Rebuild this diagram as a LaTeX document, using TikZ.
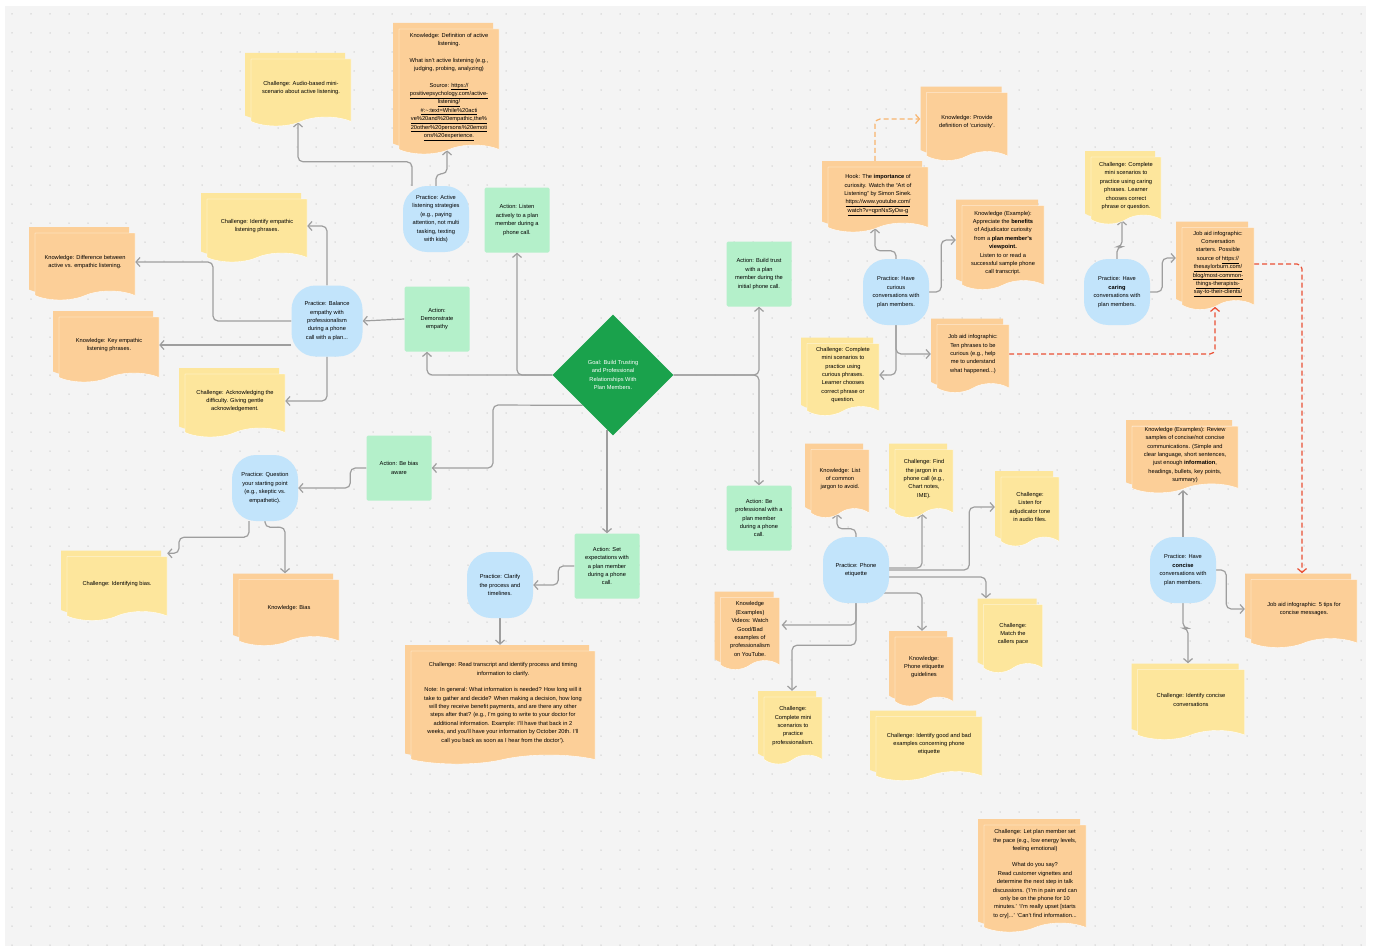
\documentclass[tikz,border=0pt]{standalone}
\usepackage{fontspec}
\setmainfont{Liberation Sans}
\usetikzlibrary{arrows.meta,shapes.geometric,shapes.symbols,shadows,calc}
\pgfdeclarelayer{bg}
\pgfdeclarelayer{edges}
\pgfsetlayers{bg,edges,main}
\newcommand{\lnk}[1]{\underline{#1}}
\definecolor{bggray}{HTML}{F4F4F4}
\definecolor{dotgray}{HTML}{CDCDCD}
\definecolor{knoworange}{HTML}{FCCF98}
\definecolor{chalyellow}{HTML}{FDE69C}
\definecolor{pracblue}{HTML}{C2E4FB}
\definecolor{actgreen}{HTML}{B4F0CA}
\definecolor{goalgreen}{HTML}{1AA24C}
\definecolor{linegray}{HTML}{9E9E9E}
\definecolor{dashorange}{HTML}{F8B46E}
\definecolor{dashred}{HTML}{EA5034}

\begin{document}
\begin{tikzpicture}[x=1pt,y=-1pt,font=\fontsize{5.7}{8.4}\selectfont,
 goal/.style={diamond,aspect=1,fill=goalgreen,text=white,minimum size=121pt,inner sep=0pt,align=center},
 act/.style={rectangle,rounded corners=1.5pt,fill=actgreen,minimum size=65pt,inner sep=1pt,align=center},
 prac/.style={rectangle,rounded corners=24pt,fill=pracblue,minimum size=66pt,inner sep=1pt,align=center},
 doc/.style={tape,tape bend top=none,tape bend height=9pt,fill=#1,draw=white,line width=0.4pt,
   inner sep=1pt,align=center,
   copy shadow={shadow xshift=-6pt,shadow yshift=6pt,opacity=1,fill=#1,draw=none}},
 know/.style={doc=knoworange},
 chal/.style={doc=chalyellow},
 wh/.style 2 args={minimum width=#1pt,minimum height=#2pt},
 ln/.style={draw=linegray,line width=1.2pt,rounded corners=5pt,-{Straight Barb[length=4pt,width=9pt]}},
 dln/.style={ln,draw=#1,dashed,dash pattern=on 5pt off 3pt}]
\useasboundingbox (0,0) rectangle (1373,950);
\begin{pgfonlayer}{bg}
\fill[white] (0,0) rectangle (1373,950);
\fill[bggray] (5,6) rectangle (1366,946);
\foreach \i in {0,...,71}
  \foreach \j in {0,...,49}
    \fill[dotgray] (12+19*\i,14+19*\j) circle (0.75);
\end{pgfonlayer}

% goal and actions
\node[goal] (goal) at (613,375) {Goal: Build Trusting\\and Professional\\Relationships With\\Plan Members.};
\node[act] (a1) at (517,220) {Action: Listen\\actively to a plan\\member during a\\phone call.};
\node[act] (a2) at (437,319) {Action:\\Demonstrate\\empathy};
\node[act] (a3) at (399,468) {Action: Be bias\\aware};
\node[act] (a4) at (607,566) {Action: Set\\expectations with\\a plan member\\during a phone\\call.};
\node[act] (a5) at (759,274) {Action: Build trust\\with a plan\\member during the\\initial phone call.};
\node[act] (a6) at (759,518) {Action: Be\\professional with a\\plan member\\during a phone\\call.};

% practice
\node[prac] (p1) at (436,219) {Practice: Active\\listening strategies\\(e.g., paying\\attention, not multi\\tasking, texting\\with kids)};
\node[prac,minimum size=71pt] (p2) at (327,321) {Practice: Balance\\empathy with\\professionalism\\during a phone\\call with a plan...};
\node[prac] (p3) at (265,488) {Practice: Question\\your starting point\\(e.g., skeptic vs.\\empathetic).};
\node[prac] (p4) at (500,585) {Practice: Clarify\\the process and\\timelines.};
\node[prac] (p5) at (896,292) {Practice: Have\\curious\\conversations with\\plan members.};
\node[prac] (p6) at (1117,292) {Practice: Have\\\textbf{caring}\\conversations with\\plan members.};
\node[prac] (p7) at (856,570) {Practice: Phone\\etiquette};
\node[prac] (p8) at (1183,570) {Practice: Have\\\textbf{concise}\\conversations with\\plan members.};

% left side documents
\node[chal,wh={100}{67}] (d1) at (301,88) {Challenge: Audio-based mini-\\scenario about active listening.};
\node[know,wh={100}{125}] (d2) at (449,87) {Knowledge: Definition of active\\listening.\\[8pt]What isn't active listening (e.g.,\\judging, probing, analyzing)\\[8pt]Source: \lnk{https://}\\\lnk{positivepsychology.com/active-}\\\lnk{listening/}\\\lnk{\#:\textasciitilde:text=While\%20acti}\\\lnk{ve\%20and\%20empathic,the\%}\\\lnk{20other\%20persons\%20emoti}\\\lnk{ons\%20experience.}};
\node[chal,wh={100}{63}] (d3) at (257,226) {Challenge: Identify empathic\\listening phrases.};
\node[know,wh={100}{67}] (d4) at (85,262) {Knowledge: Difference between\\active vs. empathic listening.};
\node[know,wh={100}{65}] (d5) at (109,345) {Knowledge: Key empathic\\listening phrases.};
\node[chal,wh={100}{63}] (d6) at (235,401) {Challenge: Acknowledging the\\difficulty. Giving gentle\\acknowledgement.};
\node[chal,wh={100}{64}] (d7) at (117,584) {Challenge: Identifying bias.};
\node[know,wh={100}{66}] (d8) at (289,608) {Knowledge: Bias};
\node[know,wh={184}{113}] (d9) at (503,703) {Challenge: Read transcript and identify process and timing\\information to clarify.\\[8pt]Note: In general: What information is needed? How long will it\\take to gather and decide? When making a decision, how long\\will they receive benefit payments, and are there any other\\steps after that? (e.g., I'm going to write to your doctor for\\additional information. Example: I'll have that back in 2\\weeks, and you'll have your information by October 20th. I'll\\call you back as soon as I hear from the doctor').};

% curious and caring documents
\node[know,wh={81}{68}] (d10) at (967,122) {Knowledge: Provide\\definition of `curiosity'.};
\node[know,wh={100}{65}] (d11) at (878,195) {Hook: The \textbf{importance} of\\curiosity. Watch the ``Art of\\Listening'' by Simon Sinek.\\\lnk{https://www.youtube.com/}\\\lnk{watch?v=qpnNsSyDw-g}};
\node[know,wh={82}{84}] (d12) at (1003,243) {Knowledge (Example):\\Appreciate the \textbf{benefits}\\of Adjudicator curiosity\\from a \textbf{plan member's}\\\textbf{viewpoint.}\\Listen to or read a\\successful sample phone\\call transcript.};
\node[know,wh={72}{68}] (d13) at (973,354) {Job aid infographic:\\Ten phrases to be\\curious (e.g., help\\me to understand\\what happened...)};
\node[chal,wh={72}{72}] (d14) at (843,375) {Challenge: Complete\\mini scenarios to\\practice using\\curious phrases.\\Learner chooses\\correct phrase or\\question.};
\node[chal,wh={70}{67}] (d15) at (1126,186) {Challenge: Complete\\mini scenarios to\\practice using caring\\phrases. Learner\\chooses correct\\phrase or question.};
\node[know,wh={72}{82}] (d16) at (1218,264) {Job aid infographic:\\Conversation\\starters. Possible\\source of \lnk{https://}\\\lnk{thesaylorburn.com/}\\\lnk{blog/most-common-}\\\lnk{things-therapists-}\\\lnk{say-to-their-clients/}};

% concise documents
\node[know,wh={106}{66}] (d17) at (1185,455) {Knowledge (Examples): Review\\samples of concise/not concise\\communications. (Simple and\\clear language, short sentences,\\just enough \textbf{information},\\headings, bullets, key points,\\summary)};
\node[know,wh={106}{68}] (d18) at (1304,609) {Job aid infographic: 5 tips for\\concise messages.};
\node[chal,wh={107}{70}] (d19) at (1191,700) {Challenge: Identify concise\\conversations};

% phone etiquette documents
\node[know,wh={58}{68}] (d20) at (840,479) {Knowledge: List\\of common\\jargon to avoid.};
\node[chal,wh={58}{68}] (d21) at (924,479) {Challenge: Find\\the jargon in a\\phone call (e.g.,\\Chart notes,\\IME).};
\node[chal,wh={58}{69}] (d22) at (1030,507) {Challenge:\\Listen for\\adjudicator tone\\in audio files.};
\node[chal,wh={59}{68}] (d23) at (1013,634) {Challenge:\\Match the\\callers pace};
\node[know,wh={58}{69}] (d24) at (924,667) {Knowledge:\\Phone etiquette\\guidelines};
\node[know,wh={59}{72}] (d25) at (750,629) {Knowledge\\(Examples)\\Videos: Watch\\Good/Bad\\examples of\\professionalism\\on YouTube.};
\node[chal,wh={58}{67}] (d26) at (793,726) {Challenge:\\Complete mini\\scenarios to\\practice\\professionalism.};
\node[chal,wh={106}{64}] (d27) at (929,744) {Challenge: Identify good and bad\\examples concerning phone\\etiquette};
\node[know,wh={102}{107}] (d28) at (1035,874) {Challenge: Let plan member set\\the pace (e.g., low energy levels,\\feeling emotional)\\[8pt]What do you say?\\Read customer vignettes and\\determine the next step in talk\\discussions. (`I'm in pain and can\\only be on the phone for 10\\minutes.' `I'm really upset [starts\\to cry]...' `Can't find information...};

\begin{pgfonlayer}{edges}
% goal to actions
\draw[ln] (goal.west) -| (a1.south);
\draw[ln] (goal.west) -| ([xshift=-10pt]a2.south);
\draw[ln] (goal.south west) -- (493,405) |- (a3.east);
\draw[ln] ($(a4.north |- goal.south)+(0,-6)$) -- (a4.north);
\foreach \b in {a5.south,a6.north}
  \draw[ln] (goal.east) -| (\b);
% active listening and empathy
\draw[ln] ([xshift=-24pt]p1.north) -- ++(0,-24) -| ($(d1.south)+(-3,5)$);
\draw[ln] (p1.north) -- ++(0,-12) -| ($(d2.south)+(-2,5)$);
\draw[ln] (a2.west) -- (p2.east);
\draw[ln] (p2.north) |- (d3.east);
\draw[ln] (p2.west) -- (213,321) |- (d4.east);
\draw[ln] ([yshift=-24pt]p2.west) -- (d5.east);
\draw[ln] (p2.south) |- (d6.east);
% bias
\draw[ln] (a3.west) -- ++(-16,0) |- (p3.east);
\draw[ln] ([xshift=-16pt]p3.south) -- ++(0,16) -- ++(-70,0) |- ($(d7.north east)+(0,-3)$);
\draw[ln] (p3.south) -- ++(0,6) -| ($(d8.north)+(-4,-6)$);
% expectations
\draw[ln] (a4.west) -- ++(-16,0) |- (p4.east);
\draw[ln] (p4.south) -- ($(p4.south |- d9.north)+(0,-6)$);
% curious
\draw[ln] (p5.north) -- ++(0,-8) -| ($(d11.south)+(-3,5)$);
\draw[ln] (p5.east) -- ++(12,0) |- ($(d12.west)+(-6,-3)$);
\draw[ln] (p5.south) |- (d14.east);
\draw[ln] (p5.south) |- ($(d13.west)+(-6,0)$);
\draw[dln=dashorange] ($(d11.north)+(-3,-6)$) |- ($(d10.west)+(-6,-3)$);
\draw[dln=dashred] (d13.east) -| ($(d16.south)+(-3,6)$);
\draw[dln=dashred] (d16.east) -| ($(d18.north)+(-2,-6)$);
% caring
\draw[ln] (p6.north) -- ++(0,-12) -| ($(d15.south)+(-4,5)$);
\draw[ln] (p6.east) -- ++(12,0) |- ($(d16.west)+(-6,-6)$);
% phone etiquette
\draw[ln] (p7.north) -- ++(0,-8) -| ($(d20.south)+(-3,5)$);
\draw[ln] ($(p7.east)+(0,-2)$) -| ($(d21.south)+(-2,5)$);
\draw[ln] (p7.east) -- ++(80,0) |- ($(d22.west)+(-6,0)$);
\draw[ln] ($(p7.east)+(0,7)$) -| ($(d23.north)+(-27,-6)$);
\draw[ln] ($(p7.east)+(-5,23)$) -| ($(d24.north)+(-2,-6)$);
\draw[ln] (p7.south) |- ($(d25.east)+(2,-4)$);
\draw[ln] (p7.south) -- ++(0,42) -| ($(d26.north)+(-1,-6)$);
% concise
\draw[ln] (p8.north) -- ($(p8.north |- d17.south)+(0,6)$);
\draw[ln] (p8.east) -- ++(10,0) |- ($(d18.west)+(-6,0)$);
\draw[ln] (p8.south) -- ++(0,25) -| ($(d19.north)+(-3,-6)$);
\end{pgfonlayer}
\end{tikzpicture}
\end{document}
